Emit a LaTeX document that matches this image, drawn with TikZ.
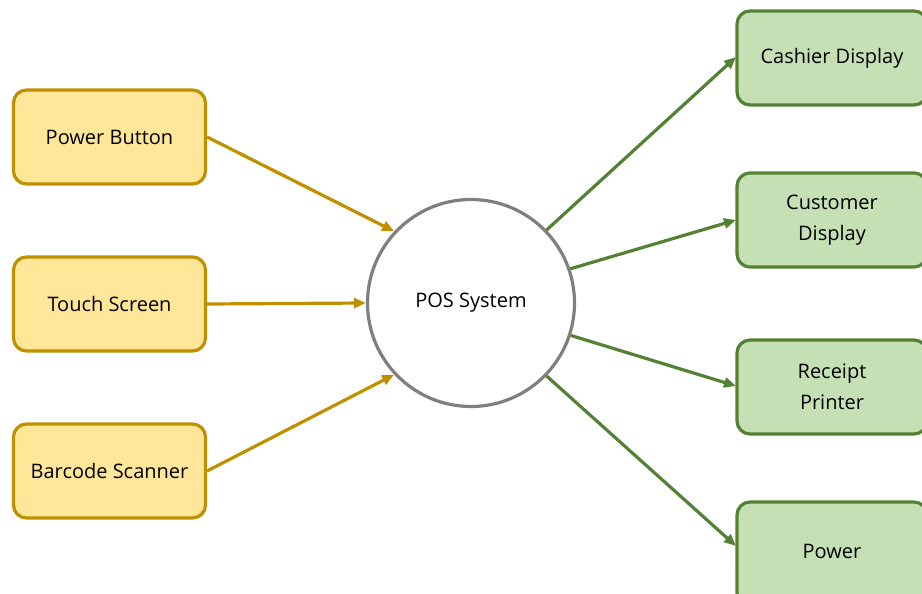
\documentclass[tikz,border=0pt]{standalone}
\usepackage{fontspec}
\setmainfont{Open Sans}
\usetikzlibrary{arrows.meta}
\definecolor{yfill}{HTML}{FFE699}
\definecolor{yline}{HTML}{BF9000}
\definecolor{gfill}{HTML}{C5E0B4}
\definecolor{gline}{HTML}{548235}
\definecolor{cline}{HTML}{7F7F7F}
\tikzset{
  inbox/.style={draw=yline, fill=yfill, line width=3.2pt, rounded corners=13pt,
    minimum width=192pt, minimum height=94pt, align=center, inner sep=0pt,
    font=\fontsize{20}{24}\selectfont},
  outbox/.style={draw=gline, fill=gfill, line width=3.2pt, rounded corners=13pt,
    minimum width=190pt, minimum height=94pt, align=center, inner sep=0pt,
    font=\fontsize{20}{31}\selectfont},
  hub/.style={circle, draw=cline, fill=white, line width=3.2pt, minimum size=207pt,
    inner sep=0pt, font=\fontsize{20}{24}\selectfont},
  inarrow/.style={draw=yline, line width=3.2pt, -{Triangle[length=12pt,width=10pt]}},
  outarrow/.style={draw=gline, line width=3.2pt, -{Triangle[length=12pt,width=10pt]}}
}
\begin{document}
\begin{tikzpicture}[x=1pt,y=-1pt]
\useasboundingbox (0,0) rectangle (922,594);
\clip (0,0) rectangle (922,594);
\node[inbox] (pb) at (109.5,137) {Power Button};
\node[inbox] (ts) at (109.5,304) {Touch Screen};
\node[inbox] (bs) at (109.5,471) {Barcode Scanner};
\node[hub] (pos) at (471,303) {POS System};
\node[outbox] (cd) at (832,58) {Cashier Display};
\node[outbox] (cu) at (832,220) {Customer\\Display};
\node[outbox] (rp) at (832,387) {Receipt\\Printer};
\node[outbox, minimum height=104pt] (pw) at (832,554) {\raisebox{5pt}{Power}};
\coordinate (cdin) at (736,57);
\coordinate (cuin) at (736,220);
\coordinate (rpin) at (736,386);
\coordinate (pwin) at (736,546);
\draw[inarrow] (pb.east) -- (pos.137);
\draw[inarrow] (ts.east) -- (pos.west);
\draw[inarrow] (bs.east) -- (pos.223);
\draw[outarrow] (pos.44) -- (cdin);
\draw[outarrow] (pos.19) -- (cuin);
\draw[outarrow] (pos.-18) -- (rpin);
\draw[outarrow] (pos.-44) -- (pwin);
\end{tikzpicture}
\end{document}
